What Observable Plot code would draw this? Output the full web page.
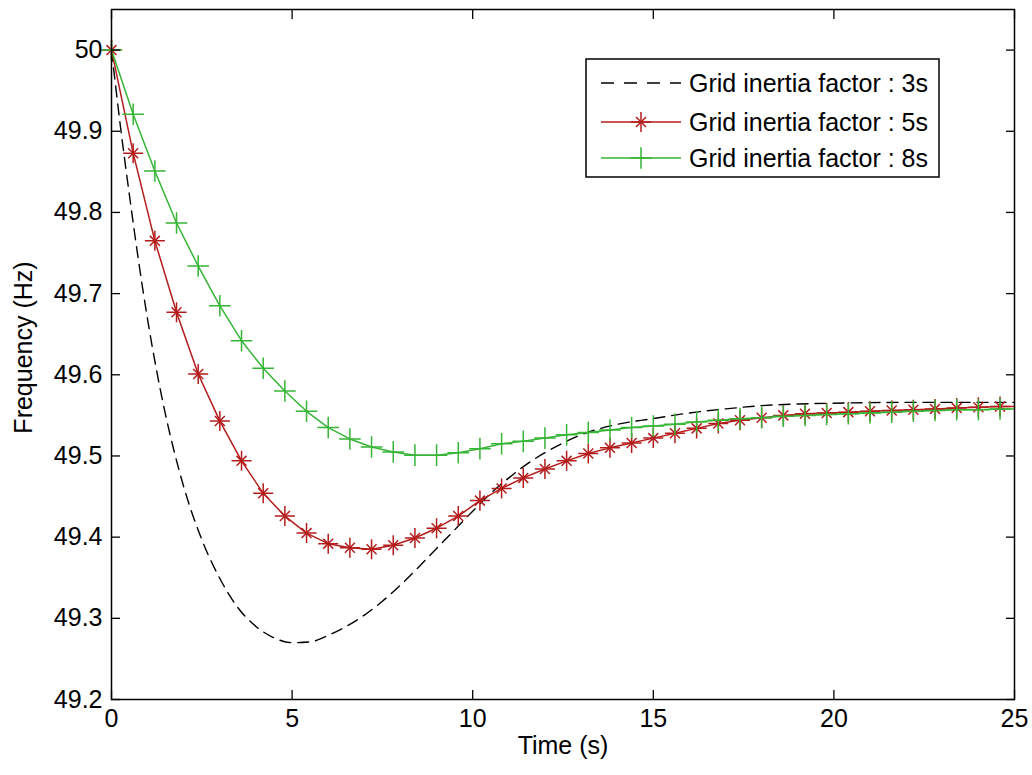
<!DOCTYPE html>
<html>
<head>
<meta charset="utf-8">
<script src="https://cdn.jsdelivr.net/npm/d3@7"></script>
<script src="https://cdn.jsdelivr.net/npm/@observablehq/plot@0.6"></script>
<style>
  body { margin: 0; background: #fff; }
  #wrap { position: relative; width: 1032px; height: 775px; background: #fff; }
  #legend { position: absolute; left: 585px; top: 58px; }
</style>
</head>
<body>
<div id="wrap"></div>
<script>
// ---- Data ----
const seriesNames = ["Grid inertia factor : 3s", "Grid inertia factor : 5s", "Grid inertia factor : 8s"];
const seriesColors = ["#000000", "#b41c1c", "#36b536"];

// 3 s curve (dashed, no markers)
const time3 = [0, 0.25, 0.5, 0.75, 1.0, 1.25, 1.5, 1.75, 2.0, 2.5, 3.0, 3.5, 4.0, 4.5, 5.0, 5.5, 6.0, 6.5,
  7.0, 7.5, 8.0, 8.5, 9.0, 9.5, 10.0, 10.5, 11.0, 11.5, 12.0, 12.5, 13.0, 14.0, 15.0, 16.0, 17.0, 18.0, 19.0, 20.0, 22.0, 25.0];
const freq3 = [50, 49.905, 49.82, 49.74, 49.668, 49.605, 49.55, 49.503, 49.462, 49.397, 49.349, 49.313, 49.29, 49.276, 49.27, 49.271, 49.279, 49.29,
  49.304, 49.321, 49.341, 49.363, 49.386, 49.409, 49.432, 49.454, 49.473, 49.49, 49.504, 49.516, 49.526, 49.539, 49.546, 49.553, 49.558, 49.562, 49.564, 49.565, 49.566, 49.566];

// 5 s and 8 s curves share sample times (markers at every sample except the final end point)
const time58 = [0, 0.6, 1.2, 1.8, 2.4, 3.0, 3.6, 4.2, 4.8, 5.4, 6.0, 6.6, 7.2, 7.8, 8.4, 9.0, 9.6, 10.2, 10.8, 11.4, 12.0,
  12.6, 13.2, 13.8, 14.4, 15.0, 15.6, 16.2, 16.8, 17.4, 18.0, 18.6, 19.2, 19.8, 20.4, 21.0, 21.6, 22.2, 22.8, 23.4, 24.0, 24.6, 25];
const freq5 = [50, 49.873, 49.765, 49.677, 49.601, 49.543, 49.494, 49.454, 49.426, 49.405, 49.392, 49.387, 49.385, 49.390, 49.399, 49.411, 49.426, 49.445, 49.460, 49.473, 49.484,
  49.494, 49.503, 49.510, 49.516, 49.522, 49.528, 49.534, 49.540, 49.544, 49.547, 49.550, 49.552, 49.553, 49.554, 49.555, 49.556, 49.557, 49.558, 49.559, 49.560, 49.561, 49.561];
const freq8 = [50, 49.921, 49.851, 49.787, 49.734, 49.685, 49.642, 49.608, 49.580, 49.555, 49.535, 49.521, 49.511, 49.505, 49.501, 49.501, 49.504, 49.509, 49.515, 49.518, 49.522,
  49.526, 49.529, 49.532, 49.535, 49.537, 49.539, 49.542, 49.544, 49.546, 49.547, 49.549, 49.550, 49.551, 49.552, 49.553, 49.554, 49.555, 49.556, 49.557, 49.557, 49.558, 49.558];

const xTicks = [0, 5, 10, 15, 20, 25];
const xTickLabels = ["0", "5", "10", "15", "20", "25"];
const yTicks = [49.2, 49.3, 49.4, 49.5, 49.6, 49.7, 49.8, 49.9, 50];
const yTickLabels = ["49.2", "49.3", "49.4", "49.5", "49.6", "49.7", "49.8", "49.9", "50"];
const xLabel = "Time (s)";
const yLabel = "Frequency (Hz)";

// ---- Build tables ----
const rows3 = time3.map((t, i) => ({t, f: freq3[i]}));
const rows5 = time58.map((t, i) => ({t, f: freq5[i]}));
const rows8 = time58.map((t, i) => ({t, f: freq8[i]}));
const mark5 = rows5.slice(0, -1);
const mark8 = rows8.slice(0, -1);
const xFmt = new Map(xTicks.map((d, i) => [d, xTickLabels[i]]));
const yFmt = new Map(yTicks.map((d, i) => [d, yTickLabels[i]]));

const FONT = "'Liberation Sans', Arial, Helvetica, sans-serif";
const FS = 25;
const TK = 9;

const chart = Plot.plot({
  width: 1032,
  height: 775,
  marginLeft: 111,
  marginRight: 18,
  marginTop: 9,
  marginBottom: 76,
  x: {domain: [0, 25]},
  y: {domain: [49.2, 50.05]},
  style: {fontFamily: FONT, fontSize: FS + "px", background: "#fff", color: "#000"},
  marks: [
    Plot.line(rows3, {x: "t", y: "f", stroke: seriesColors[0], strokeWidth: 1.4, strokeDasharray: "11,7", curve: "monotone-x"}),
    Plot.line(rows5, {x: "t", y: "f", stroke: seriesColors[1], strokeWidth: 1.5}),
    Plot.line(rows8, {x: "t", y: "f", stroke: seriesColors[2], strokeWidth: 1.5}),
    Plot.dot(mark5, {x: "t", y: "f", symbol: "plus", r: 6.5, stroke: seriesColors[1], strokeWidth: 1.5}),
    Plot.dot(mark5, {x: "t", y: "f", symbol: "times", r: 4.6, stroke: seriesColors[1], strokeWidth: 1.5}),
    Plot.dot(mark8, {x: "t", y: "f", symbol: "plus", r: 7, stroke: seriesColors[2], strokeWidth: 1.5}),
    Plot.frame({stroke: "#000", strokeWidth: 1.5}),
    // inward ticks on all four sides
    Plot.axisX({anchor: "bottom", ticks: xTicks, tickSize: TK, dy: -TK, fill: "none", label: null, strokeWidth: 1.3}),
    Plot.axisX({anchor: "top", ticks: xTicks, tickSize: TK, dy: TK, fill: "none", label: null, strokeWidth: 1.3}),
    Plot.axisY({anchor: "left", ticks: yTicks, tickSize: TK, dx: TK, fill: "none", label: null, strokeWidth: 1.3}),
    Plot.axisY({anchor: "right", ticks: yTicks, tickSize: TK, dx: -TK, fill: "none", label: null, strokeWidth: 1.3}),
    // tick labels
    Plot.axisX({anchor: "bottom", ticks: xTicks, tickSize: 0, tickPadding: 10, tickFormat: d => xFmt.get(d), label: null, fontSize: FS}),
    Plot.axisY({anchor: "left", ticks: yTicks, tickSize: 0, tickPadding: 9, tickFormat: d => yFmt.get(d), label: null, fontSize: FS}),
    // axis titles
    Plot.text([xLabel], {text: d => d, frameAnchor: "bottom", textAnchor: "middle", dy: 54, fontSize: FS}),
    Plot.text([yLabel], {text: d => d, frameAnchor: "left", textAnchor: "middle", rotate: -90, dx: -88, dy: -7, fontSize: FS})
  ]
});
document.getElementById("wrap").appendChild(chart);

// ---- Legend (inside the axes, top right) ----
const LW = 354, LH = 119;
const leg = d3.select("#wrap").append("svg")
  .attr("id", "legend").attr("width", LW + 2).attr("height", LH + 2)
  .style("font-family", FONT).style("font-size", FS + "px");
leg.append("rect").attr("x", 1).attr("y", 1).attr("width", LW - 1).attr("height", LH - 1)
  .attr("fill", "#fff").attr("stroke", "#000").attr("stroke-width", 1.5);
const rowY = [25, 64, 100];
seriesNames.forEach((name, i) => {
  const g = leg.append("g").attr("transform", `translate(0,${rowY[i]})`);
  g.append("line").attr("x1", 16).attr("x2", 96).attr("y1", 0).attr("y2", 0)
    .attr("stroke", seriesColors[i]).attr("stroke-width", 1.5)
    .attr("stroke-dasharray", i === 0 ? "13,10" : null);
  if (i === 1) {
    g.append("path").attr("d", d3.symbol(d3.symbolPlus, Math.PI * 6.5 * 6.5)()).attr("transform", "translate(56,0)")
      .attr("fill", "none").attr("stroke", seriesColors[i]).attr("stroke-width", 1.5);
    g.append("path").attr("d", d3.symbol(d3.symbolTimes, Math.PI * 4.6 * 4.6)()).attr("transform", "translate(56,0)")
      .attr("fill", "none").attr("stroke", seriesColors[i]).attr("stroke-width", 1.5);
  } else if (i === 2) {
    g.append("path").attr("d", d3.symbol(d3.symbolPlus, Math.PI * 7 * 7)()).attr("transform", "translate(56,0)")
      .attr("fill", "none").attr("stroke", seriesColors[i]).attr("stroke-width", 1.5);
  }
  g.append("text").attr("x", 104).attr("y", 0).attr("dy", "0.35em").attr("fill", "#000").text(name);
});
</script>
</body>
</html>
